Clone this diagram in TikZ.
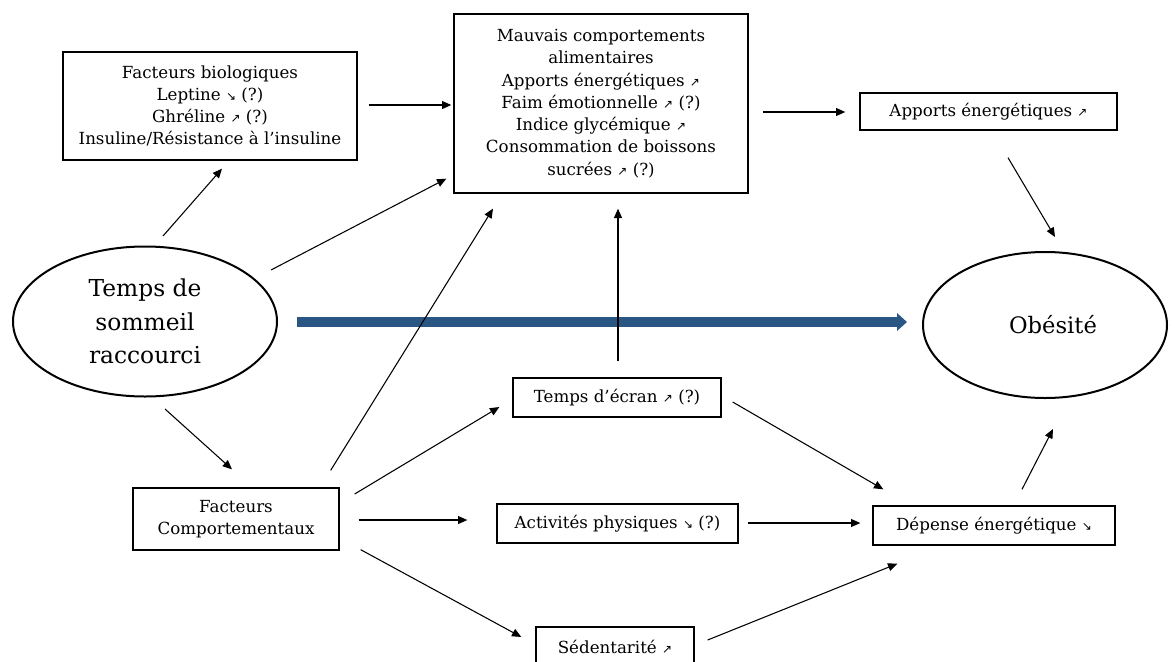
\documentclass[tikz,border=0pt]{standalone}
\usepackage{fontspec}
\setmainfont{DejaVu Serif}
\newfontfamily\arrfont{DejaVu Sans}
\usetikzlibrary{arrows.meta,calc,shapes.geometric}
\newcommand\arrUp{{\arrfont\fontsize{9}{9}\selectfont ↗}}
\newcommand\arrDn{{\arrfont\fontsize{9}{9}\selectfont ↘}}
\definecolor{mainblue}{RGB}{42,86,132}
\tikzset{
  boxnode/.style={draw, line width=1pt, align=center, inner sep=0pt,
    font=\fontsize{12.5}{16.7}\selectfont},
  ellnode/.style={draw, ellipse, line width=1.5pt, align=center, inner sep=0pt},
  arr/.style={line width=0.8pt, -{Triangle[length=7pt,width=6pt]}},
}
\begin{document}
\begin{tikzpicture}[x=0.75pt,y=-0.75pt]
\useasboundingbox (0,0) rectangle (1175,661);
% nodes
\node[boxnode, minimum width=220.5pt, minimum height=81pt] (bio) at (210,106)
  {Facteurs biologiques\\Leptine \arrDn{} (?)\\Ghréline \arrUp{} (?)\\Insuline/Résistance à l’insuline};
\node[boxnode, minimum width=220.5pt, minimum height=134.25pt] (mauv) at (601,103.5)
  {Mauvais comportements\\alimentaires\\Apports énergétiques \arrUp\\Faim émotionnelle \arrUp{} (?)\\Indice glycémique \arrUp\\Consommation de boissons\\sucrées \arrUp{} (?)};
\node[boxnode, minimum width=192.75pt, minimum height=27.75pt] (appo) at (988.5,111.5)
  {Apports énergétiques \arrUp};
\node[ellnode, minimum width=198pt, minimum height=112.5pt,
  font=\fontsize{17.5}{25}\selectfont] (temps) at (145,321.5)
  {Temps de\\sommeil\\raccourci};
\node[ellnode, minimum width=183pt, minimum height=109.5pt,
  font=\fontsize{17}{25}\selectfont] (obes) at (1045,325)
  {\hspace*{12pt}Obésité};
\node[boxnode, minimum width=156pt, minimum height=29.25pt] (ecran) at (617,397.5)
  {Temps d’écran \arrUp{} (?)};
\node[boxnode, minimum width=180.75pt, minimum height=29.25pt] (activ) at (617.5,523.5)
  {Activités physiques \arrDn{} (?)};
\node[boxnode, minimum width=154.5pt, minimum height=46.5pt] (faccomp) at (236,519)
  {Facteurs\\Comportementaux};
\node[boxnode, minimum width=118.5pt, minimum height=30pt] (sed) at (615,647)
  {Sédentarité \arrUp};
\node[boxnode, minimum width=181.5pt, minimum height=29.25pt] (dep) at (994,525.5)
  {Dépense énergétique \arrDn};
% big blue arrow
\draw[mainblue, line width=7.5pt, -{Triangle[length=7.5pt,width=13pt]}]
  ($(temps.east)+(19,0.5)$) -- ($(obes.west)+(-15,-3)$);
% connectors
\draw[arr] ($(bio.east)+(11,-1)$) -- ($(mauv.west)+(-2,1.5)$);
\draw[arr] ($(mauv.east)+(14,8.5)$) -- ($(appo.west)+(-14,0.5)$);
\draw[arr] ($(appo.south)+(19.5,27)$) -- ($(obes.north)+(10,-14)$);
\draw[arr] ($(temps.north)+(18,-9.5)$) -- ($(bio.south)+(12,8)$);
\draw[arr] ($(temps.east)+(-7,-51.5)$) -- ($(mauv.south west)+(-7,-15)$);
\draw[arr] ($(temps.south)+(20,11.5)$) -- ($(faccomp.north)+(-4,-18)$);
\draw[arr] ($(faccomp.north east)+(-9,-17)$) -- ($(mauv.south)+(-108,15)$);
\draw[arr] ($(ecran.north)+(1,-16)$) -- ($(mauv.south)+(17,15)$);
\draw[arr] ($(faccomp.east)+(15,-25)$) -- ($(ecran.west)+(-13,9.5)$);
\draw[arr] ($(faccomp.east)+(19,1)$) -- ($(activ.west)+(-29,-3.5)$);
\draw[arr] ($(faccomp.south east)+(21,-1)$) -- ($(sed.west)+(-14,-10)$);
\draw[arr] ($(ecran.east)+(11,4.5)$) -- ($(dep.north west)+(11,-16)$);
\draw[arr] ($(activ.east)+(9,-0.5)$) -- ($(dep.west)+(-12,-2.5)$);
\draw[arr] ($(sed.east)+(13,-7)$) -- ($(dep.south west)+(25,18)$);
\draw[arr] ($(dep.north)+(28,-16)$) -- ($(obes.south)+(8,30)$);
\end{tikzpicture}
\end{document}
